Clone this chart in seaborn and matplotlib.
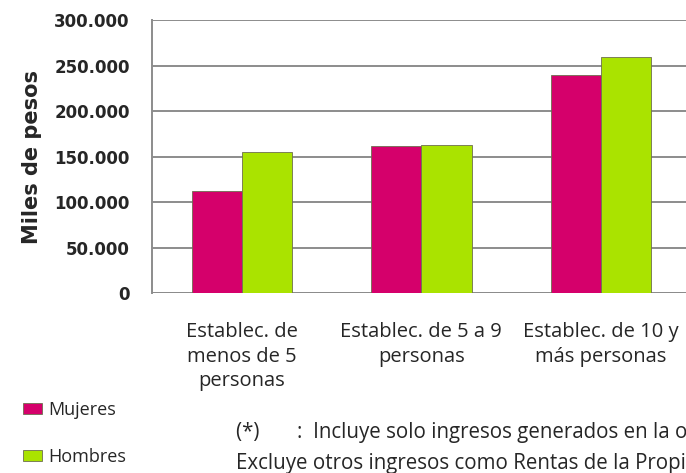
import matplotlib
matplotlib.use("Agg")
import matplotlib.pyplot as plt
from matplotlib.ticker import FuncFormatter
import seaborn as sns
import pandas as pd

# datos (miles de pesos)
categorias = ["Establec. de\nmenos de 5\npersonas",
              "Establec. de 5 a 9\npersonas",
              "Establec. de 10 y\nmás personas"]
mujeres = [112000, 162000, 240000]
hombres = [155000, 163000, 259000]
y_ticks = [0, 50000, 100000, 150000, 200000, 250000, 300000]

df = pd.DataFrame({
    "categoria": categorias * 2,
    "sexo": ["Mujeres"] * 3 + ["Hombres"] * 3,
    "valor": mujeres + hombres,
})

sns.set_style("white")
plt.rcParams["font.family"] = ["Open Sans", "DejaVu Sans"]
txt = "#262626"

fig = plt.figure(figsize=(6.86, 4.73), dpi=100)
ax = fig.add_axes([0.2216, 0.3805, 0.785, 0.5772])

sns.barplot(data=df, x="categoria", y="valor", hue="sexo", order=categorias,
            hue_order=["Mujeres", "Hombres"],
            palette={"Mujeres": "#D5006B", "Hombres": "#AAE300"},
            saturation=1, width=0.56, gap=0, edgecolor="#6e6e50", linewidth=0.6,
            errorbar=None, ax=ax, zorder=3)

ax.set_xlim(-0.5, 2.5)
ax.set_ylim(0, 300000)
ax.set_yticks(y_ticks)
ax.yaxis.set_major_formatter(FuncFormatter(lambda v, p: f"{int(v):,}".replace(",", ".")))
ax.grid(axis="y", color="#8c8c8c", linewidth=1.4, zorder=0)
ax.set_axisbelow(True)
for s in ["top", "right", "bottom"]:
    ax.spines[s].set_visible(False)
ax.spines["left"].set_color("#8c8c8c")
ax.spines["left"].set_linewidth(1.4)
ax.axhline(0, color="#8c8c8c", linewidth=1.4, zorder=1)

ax.tick_params(axis="y", length=4, width=1.4, color="#8c8c8c", pad=12,
               labelsize=12, labelcolor=txt)
for t in ax.get_yticklabels():
    t.set_fontfamily("DejaVu Sans")
    t.set_fontweight("bold")
ax.tick_params(axis="x", length=0, pad=21, labelsize=14.5, labelcolor=txt)
for t in ax.get_xticklabels():
    t.set_linespacing(1.3)

ax.set_xlabel("")
ax.set_ylabel("Miles de pesos", fontsize=15, fontweight="bold", color=txt,
              family="DejaVu Sans")
ax.yaxis.set_label_coords(-0.205, 0.50)

sns.move_legend(ax, loc="center left", bbox_to_anchor=(0.0105, 0.0835),
                bbox_transform=fig.transFigure, frameon=False, title=None,
                fontsize=13, labelspacing=1.62, handlelength=1.0,
                handleheight=0.6, handletextpad=0.4, labelcolor=txt)

# nota al pie (cortada en el borde derecho como en el original)
fig.text(0.344, 0.085, "(*)       :  Incluye solo ingresos generados en la ocupación principal",
         fontsize=14.8, color=txt, va="center")
fig.text(0.344, 0.021, "Excluye otros ingresos como Rentas de la Propiedad",
         fontsize=14.8, color=txt, va="center")

fig.savefig("out.png", dpi=100)
